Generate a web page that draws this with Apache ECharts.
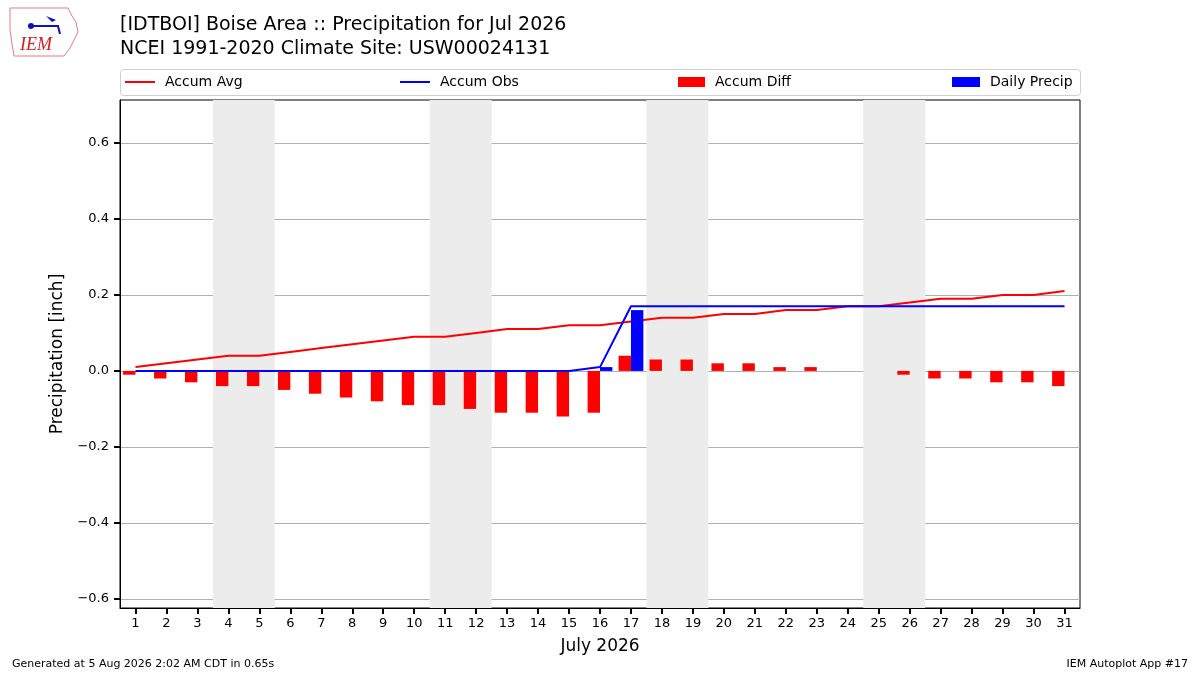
<!DOCTYPE html>
<html>
<head>
<meta charset="utf-8">
<script src="https://cdn.jsdelivr.net/npm/echarts@6/dist/echarts.min.js"></script>
<style>
    html, body {margin: 0; padding: 0; background: #fff;}
    #main {width: 1200px; height: 675px;}
</style>
</head>
<body>
<div id="main"></div>
<script>
let days = [];
for (let d = 1; d <= 31; d++) {
    days.push(String(d));
}
let accumAvg = [0.01, 0.02, 0.03, 0.04, 0.04, 0.05, 0.06, 0.07, 0.08, 0.09, 0.09, 0.10, 0.11, 0.11, 0.12, 0.12,
    0.13, 0.14, 0.14, 0.15, 0.15, 0.16, 0.16, 0.17, 0.17, 0.18, 0.19, 0.19, 0.20, 0.20, 0.21];
let accumObs = [0, 0, 0, 0, 0, 0, 0, 0, 0, 0, 0, 0, 0, 0, 0, 0.01,
    0.17, 0.17, 0.17, 0.17, 0.17, 0.17, 0.17, 0.17, 0.17, 0.17, 0.17, 0.17, 0.17, 0.17, 0.17];
let accumDiff = [-0.01, -0.02, -0.03, -0.04, -0.04, -0.05, -0.06, -0.07, -0.08, -0.09, -0.09, -0.10, -0.11, -0.11, -0.12, -0.11,
    0.04, 0.03, 0.03, 0.02, 0.02, 0.01, 0.01, 0, 0, -0.01, -0.02, -0.02, -0.03, -0.03, -0.04];
let dailyPrecip = [0, 0, 0, 0, 0, 0, 0, 0, 0, 0, 0, 0, 0, 0, 0, 0.01,
    0.16, 0, 0, 0, 0, 0, 0, 0, 0, 0, 0, 0, 0, 0, 0];
let weekendDays = [4, 5, 11, 12, 18, 19, 25, 26];
let yTicks = [-0.6, -0.4, -0.2, 0, 0.2, 0.4, 0.6];

let font = 'DejaVu Sans';
let chart = echarts.init(document.getElementById('main'));

// 周末阴影
let weekendAreas = [];
for (let i = 0; i < weekendDays.length; i += 2) {
    weekendAreas.push([{xAxis: weekendDays[i] - 0.5}, {xAxis: weekendDays[i + 1] + 0.5}]);
}

function legendAt(left, name, w, h) {
    return {
        left: left, top: 75, padding: 0, itemWidth: w, itemHeight: h, itemGap: 10,
        icon: 'rect', data: [name],
        textStyle: {fontFamily: font, fontSize: 14, color: '#000', padding: [0, 0, 0, 5]}
    };
}

let option = {
    backgroundColor: '#fff',
    animation: false,
    title: [
        {
            text: '[IDTBOI] Boise Area :: Precipitation for Jul 2026\nNCEI 1991-2020 Climate Site: USW00024131',
            left: 120, top: 13, padding: 0,
            textStyle: {fontFamily: font, fontSize: 19, fontWeight: 'normal', color: '#000', lineHeight: 24}
        },
        {
            text: 'Generated at 5 Aug 2026 2:02 AM CDT in 0.65s',
            left: 12, top: 659, padding: 0,
            textStyle: {fontFamily: font, fontSize: 11, fontWeight: 'normal', color: '#000'}
        },
        {
            text: 'IEM Autoplot App #17',
            right: 12, top: 659, padding: 0,
            textStyle: {fontFamily: font, fontSize: 11, fontWeight: 'normal', color: '#000'}
        }
    ],
    legend: [
        legendAt(125, 'Accum Avg', 30, 2),
        legendAt(400, 'Accum Obs', 30, 2),
        legendAt(678, 'Accum Diff', 27, 10),
        legendAt(952, 'Daily Precip', 28, 10)
    ],
    graphic: [
        {
            type: 'rect', left: 120, top: 69, z: -1,
            shape: {width: 960, height: 26, r: 3},
            style: {fill: '#fff', stroke: '#d0d0d0', lineWidth: 1}
        },
        {
            type: 'polygon', z: 10,
            shape: {points: [[10, 8], [68, 8], [72, 16], [76, 22], [78, 32], [74, 40], [70, 48], [64, 56], [14, 56], [12, 44], [10, 30]]},
            style: {fill: 'none', stroke: '#e08080', lineWidth: 1}
        },
        {
            type: 'text', left: 20, top: 36, z: 11,
            style: {text: 'IEM', fill: '#d02020', font: 'italic 18px "Liberation Serif"'}
        },
        {
            type: 'polyline', z: 11,
            shape: {points: [[28, 26], [58, 26], [60, 34]]},
            style: {stroke: '#1010c0', lineWidth: 2, fill: 'none'}
        },
        {
            type: 'circle', z: 11,
            shape: {cx: 31, cy: 26, r: 3},
            style: {fill: '#1010c0'}
        },
        {
            type: 'polygon', z: 11,
            shape: {points: [[46, 16], [56, 20], [52, 22]]},
            style: {fill: '#1010c0'}
        }
    ],
    grid: {
        left: 120, right: 120, top: 100, bottom: 67,
        show: true, borderColor: '#000', borderWidth: 1
    },
    xAxis: [
        {
            type: 'category',
            data: days,
            name: 'July 2026',
            nameLocation: 'middle',
            nameGap: 30,
            nameTextStyle: {fontFamily: font, fontSize: 17, color: '#000'},
            axisLine: {onZero: false, lineStyle: {color: '#000'}},
            axisTick: {show: true, alignWithLabel: true, length: 6, lineStyle: {color: '#000', width: 2}},
            axisLabel: {fontFamily: font, fontSize: 13, color: '#000', margin: 9, interval: 0},
            splitLine: {show: false}
        },
        {
            type: 'value', min: 0.5, max: 31.5, show: false
        }
    ],
    yAxis: {
        type: 'value',
        min: -0.624,
        max: 0.713,
        name: 'Precipitation [inch]',
        nameLocation: 'middle',
        nameGap: 50,
        nameTextStyle: {fontFamily: font, fontSize: 17, color: '#000'},
        axisLine: {show: true, lineStyle: {color: '#000'}},
        axisTick: {show: true, length: 6, lineStyle: {color: '#000', width: 2}, customValues: yTicks},
        axisLabel: {
            fontFamily: font, fontSize: 13, color: '#000', margin: 11,
            customValues: yTicks,
            formatter: function (v) {
                let s = Math.abs(v).toFixed(1);
                return v < -1e-9 ? '\u2212' + s : s;
            }
        },
        splitLine: {show: true, lineStyle: {color: '#b0b0b0', width: 1}}
    },
    series: [
        {
            name: 'weekend',
            type: 'line',
            xAxisIndex: 1,
            data: [],
            silent: true,
            z: 0,
            markArea: {
                silent: true,
                itemStyle: {color: '#ececec'},
                data: weekendAreas
            }
        },
        {
            name: 'Accum Diff',
            type: 'bar',
            data: accumDiff,
            barWidth: 12.4,
            barGap: '0%',
            itemStyle: {color: '#ff0000'},
            z: 2
        },
        {
            name: 'Daily Precip',
            type: 'bar',
            data: dailyPrecip,
            barWidth: 12.4,
            barGap: '0%',
            itemStyle: {color: '#0000ff'},
            z: 4
        },
        {
            name: 'Accum Avg',
            type: 'line',
            data: accumAvg,
            showSymbol: false,
            lineStyle: {color: '#ff0000', width: 2},
            itemStyle: {color: '#ff0000'},
            z: 3
        },
        {
            name: 'Accum Obs',
            type: 'line',
            data: accumObs,
            showSymbol: false,
            lineStyle: {color: '#0000ff', width: 2},
            itemStyle: {color: '#0000ff'},
            z: 3
        }
    ]
};

chart.setOption(option);
</script>
</body>
</html>
